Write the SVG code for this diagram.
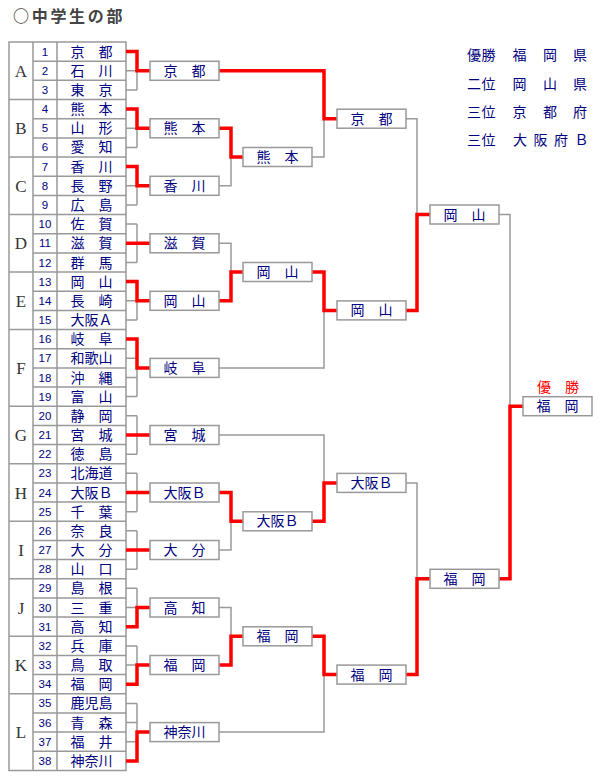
<svg xmlns="http://www.w3.org/2000/svg" width="610" height="780" viewBox="0 0 610 780">
<style>
.t{font-family:"Noto Sans CJK JP","Noto Sans CJK SC",sans-serif;font-size:14px;fill:#000080;text-anchor:middle}
.lg{font-family:"Noto Sans CJK JP","Noto Sans CJK SC",sans-serif;font-size:14px;fill:#000080}
.n{font-family:"Liberation Sans",Arial,sans-serif;font-size:11.5px;fill:#000080;text-anchor:middle}
.g{font-family:"Liberation Serif","Times New Roman",serif;font-size:17px;fill:#333;text-anchor:middle}
.box{fill:#fff;stroke:#999;stroke-width:1.5}
.gl{fill:none;stroke:#999;stroke-width:1.5}
.rl{fill:none;stroke:#f00;stroke-width:3.5;stroke-linejoin:miter}
.tb{fill:none;stroke:#999;stroke-width:1.5}
</style>
<rect width="610" height="780" fill="#fff"/>
<text id="title" x="13" y="22" style="font-family:'Noto Sans CJK JP','Noto Sans CJK SC',sans-serif;font-size:16px;font-weight:bold;fill:#444;letter-spacing:2.7px">○中学生の部</text>

<g id="table">
<rect class="tb" x="9" y="42" width="117" height="728.5"/>
<path class="tb" d="M33 42V770.5M57 42V770.5
M33 61.2H126M33 80.3H126M33 118.7H126M33 137.9H126M33 176.2H126M33 195.4H126M33 233.7H126M33 252.9H126M33 291.2H126M33 310.4H126M33 348.7H126M33 367.9H126M33 387.1H126M33 425.4H126M33 444.6H126M33 482.9H126M33 502.1H126M33 540.4H126M33 559.6H126M33 597.9H126M33 617.1H126M33 655.4H126M33 674.6H126M33 713H126M33 732.1H126M33 751.3H126
M9 99.5H126M9 157H126M9 214.5H126M9 272H126M9 329.6H126M9 406.2H126M9 463.7H126M9 521.3H126M9 578.8H126M9 636.3H126M9 693.8H126"/>
<text class="g" x="21" y="76.8">A</text>
<text class="g" x="21" y="134.3">B</text>
<text class="g" x="21" y="191.8">C</text>
<text class="g" x="21" y="249.3">D</text>
<text class="g" x="21" y="306.8">E</text>
<text class="g" x="21" y="373.9">F</text>
<text class="g" x="21" y="441">G</text>
<text class="g" x="21" y="498.5">H</text>
<text class="g" x="21" y="556">I</text>
<text class="g" x="21" y="613.5">J</text>
<text class="g" x="21" y="671">K</text>
<text class="g" x="21" y="738.1">L</text>
</g>

<g id="team-1"><text class="n" x="45" y="55.6">1</text><text class="t" x="91.5" y="56.6">京　都</text></g>
<g id="team-2"><text class="n" x="45" y="74.8">2</text><text class="t" x="91.5" y="75.8">石　川</text></g>
<g id="team-3"><text class="n" x="45" y="93.9">3</text><text class="t" x="91.5" y="94.9">東　京</text></g>
<g id="team-4"><text class="n" x="45" y="113.1">4</text><text class="t" x="91.5" y="114.1">熊　本</text></g>
<g id="team-5"><text class="n" x="45" y="132.3">5</text><text class="t" x="91.5" y="133.3">山　形</text></g>
<g id="team-6"><text class="n" x="45" y="151.4">6</text><text class="t" x="91.5" y="152.4">愛　知</text></g>
<g id="team-7"><text class="n" x="45" y="170.6">7</text><text class="t" x="91.5" y="171.6">香　川</text></g>
<g id="team-8"><text class="n" x="45" y="189.8">8</text><text class="t" x="91.5" y="190.8">長　野</text></g>
<g id="team-9"><text class="n" x="45" y="208.9">9</text><text class="t" x="91.5" y="209.9">広　島</text></g>
<g id="team-10"><text class="n" x="45" y="228.1">10</text><text class="t" x="91.5" y="229.1">佐　賀</text></g>
<g id="team-11"><text class="n" x="45" y="247.3">11</text><text class="t" x="91.5" y="248.3">滋　賀</text></g>
<g id="team-12"><text class="n" x="45" y="266.5">12</text><text class="t" x="91.5" y="267.5">群　馬</text></g>
<g id="team-13"><text class="n" x="45" y="285.6">13</text><text class="t" x="91.5" y="286.6">岡　山</text></g>
<g id="team-14"><text class="n" x="45" y="304.8">14</text><text class="t" x="91.5" y="305.8">長　崎</text></g>
<g id="team-15"><text class="n" x="45" y="324">15</text><text class="t" x="91.5" y="325">大阪Ａ</text></g>
<g id="team-16"><text class="n" x="45" y="343.1">16</text><text class="t" x="91.5" y="344.1">岐　阜</text></g>
<g id="team-17"><text class="n" x="45" y="362.3">17</text><text class="t" x="91.5" y="363.3">和歌山</text></g>
<g id="team-18"><text class="n" x="45" y="381.5">18</text><text class="t" x="91.5" y="382.5">沖　縄</text></g>
<g id="team-19"><text class="n" x="45" y="400.6">19</text><text class="t" x="91.5" y="401.6">富　山</text></g>
<g id="team-20"><text class="n" x="45" y="419.8">20</text><text class="t" x="91.5" y="420.8">静　岡</text></g>
<g id="team-21"><text class="n" x="45" y="439">21</text><text class="t" x="91.5" y="440">宮　城</text></g>
<g id="team-22"><text class="n" x="45" y="458.2">22</text><text class="t" x="91.5" y="459.2">徳　島</text></g>
<g id="team-23"><text class="n" x="45" y="477.3">23</text><text class="t" x="91.5" y="478.3">北海道</text></g>
<g id="team-24"><text class="n" x="45" y="496.5">24</text><text class="t" x="91.5" y="497.5">大阪Ｂ</text></g>
<g id="team-25"><text class="n" x="45" y="515.7">25</text><text class="t" x="91.5" y="516.7">千　葉</text></g>
<g id="team-26"><text class="n" x="45" y="534.8">26</text><text class="t" x="91.5" y="535.8">奈　良</text></g>
<g id="team-27"><text class="n" x="45" y="554">27</text><text class="t" x="91.5" y="555">大　分</text></g>
<g id="team-28"><text class="n" x="45" y="573.2">28</text><text class="t" x="91.5" y="574.2">山　口</text></g>
<g id="team-29"><text class="n" x="45" y="592.3">29</text><text class="t" x="91.5" y="593.3">島　根</text></g>
<g id="team-30"><text class="n" x="45" y="611.5">30</text><text class="t" x="91.5" y="612.5">三　重</text></g>
<g id="team-31"><text class="n" x="45" y="630.7">31</text><text class="t" x="91.5" y="631.7">高　知</text></g>
<g id="team-32"><text class="n" x="45" y="649.9">32</text><text class="t" x="91.5" y="650.9">兵　庫</text></g>
<g id="team-33"><text class="n" x="45" y="669">33</text><text class="t" x="91.5" y="670">鳥　取</text></g>
<g id="team-34"><text class="n" x="45" y="688.2">34</text><text class="t" x="91.5" y="689.2">福　岡</text></g>
<g id="team-35"><text class="n" x="45" y="707.4">35</text><text class="t" x="91.5" y="708.4">鹿児島</text></g>
<g id="team-36"><text class="n" x="45" y="726.5">36</text><text class="t" x="91.5" y="727.5">青　森</text></g>
<g id="team-37"><text class="n" x="45" y="745.7">37</text><text class="t" x="91.5" y="746.7">福　井</text></g>
<g id="team-38"><text class="n" x="45" y="764.9">38</text><text class="t" x="91.5" y="765.9">神奈川</text></g>

<g id="connectors">
<path class="gl" d="M126 51.6H137M126 70.8H137M126 89.9H137M126 109.1H137M126 128.3H137M126 147.4H137M126 166.6H137M126 185.8H137M126 204.9H137M126 224.1H137M126 243.3H137M126 262.5H137M126 281.6H137M126 300.8H137M126 320H137M126 339.1H137M126 358.3H137M126 377.5H137M126 396.6H137M126 415.8H137M126 435H137M126 454.2H137M126 473.3H137M126 492.5H137M126 511.7H137M126 530.8H137M126 550H137M126 569.2H137M126 588.3H137M126 607.5H137M126 626.7H137M126 645.9H137M126 665H137M126 684.2H137M126 703.4H137M126 722.5H137M126 741.7H137M126 760.9H137
M137 51.6V89.9M137 109.1V147.4M137 166.6V204.9M137 224.1V262.5M137 281.6V320M137 339.1V396.6M137 415.8V454.2M137 473.3V511.7M137 530.8V569.2M137 588.3V626.7M137 645.9V684.2M137 703.4V760.9
M219 128.3H231V185.8H219M219 243.3H231V300.8H219M219 492.5H231V550H219M219 607.5H231V665H219
M219 70.8H324V157H312M312 272H324V367.9H219M219 435H324V521.3H312M312 636.3H324V732.1H219
M406 118.7H417V310.4H406M406 482.9H417V674.6H406
M499 214.5H510V578.8H499"/>
<path class="rl" d="M126 51.6H137V70.8H150M126 109.1H137V128.3H150M126 166.6H137V185.8H150M126 243.3H150M126 281.6H137V300.8H150M126 339.1H137V367.9H150M126 435H150M126 492.5H150M126 550H150M126 626.7H137V607.5H150M126 684.2H137V665H150M126 760.9H137V732.1H150
M219 128.3H231V157H243M219 300.8H231V272H243M219 492.5H231V521.3H243M219 665H231V636.3H243
M219 70.8H324V118.7H337M312 272H324V310.4H337M312 521.3H324V482.9H337M312 636.3H324V674.6H337
M406 310.4H417V214.5H430M406 674.6H417V578.8H430
M499 578.8H510V406.2H523"/>
</g>

<g id="r1-kyoto"><rect class="box" x="150" y="61.3" width="69" height="19"/><text class="t" x="184.5" y="75.8">京　都</text></g>
<g id="r1-kumamoto"><rect class="box" x="150" y="118.8" width="69" height="19"/><text class="t" x="184.5" y="133.3">熊　本</text></g>
<g id="r1-kagawa"><rect class="box" x="150" y="176.3" width="69" height="19"/><text class="t" x="184.5" y="190.8">香　川</text></g>
<g id="r1-shiga"><rect class="box" x="150" y="233.8" width="69" height="19"/><text class="t" x="184.5" y="248.3">滋　賀</text></g>
<g id="r1-okayama"><rect class="box" x="150" y="291.3" width="69" height="19"/><text class="t" x="184.5" y="305.8">岡　山</text></g>
<g id="r1-gifu"><rect class="box" x="150" y="358.4" width="69" height="19"/><text class="t" x="184.5" y="372.9">岐　阜</text></g>
<g id="r1-miyagi"><rect class="box" x="150" y="425.5" width="69" height="19"/><text class="t" x="184.5" y="440">宮　城</text></g>
<g id="r1-osakab"><rect class="box" x="150" y="483" width="69" height="19"/><text class="t" x="184.5" y="497.5">大阪Ｂ</text></g>
<g id="r1-oita"><rect class="box" x="150" y="540.5" width="69" height="19"/><text class="t" x="184.5" y="555">大　分</text></g>
<g id="r1-kochi"><rect class="box" x="150" y="598" width="69" height="19"/><text class="t" x="184.5" y="612.5">高　知</text></g>
<g id="r1-fukuoka"><rect class="box" x="150" y="655.5" width="69" height="19"/><text class="t" x="184.5" y="670">福　岡</text></g>
<g id="r1-kanagawa"><rect class="box" x="150" y="722.6" width="69" height="19"/><text class="t" x="184.5" y="737.1">神奈川</text></g>

<g id="r2-kumamoto"><rect class="box" x="243" y="147.5" width="69" height="19"/><text class="t" x="277.5" y="162">熊　本</text></g>
<g id="r2-okayama"><rect class="box" x="243" y="262.5" width="69" height="19"/><text class="t" x="277.5" y="277">岡　山</text></g>
<g id="r2-osakab"><rect class="box" x="243" y="511.8" width="69" height="19"/><text class="t" x="277.5" y="526.3">大阪Ｂ</text></g>
<g id="r2-fukuoka"><rect class="box" x="243" y="626.8" width="69" height="19"/><text class="t" x="277.5" y="641.3">福　岡</text></g>

<g id="r3-kyoto"><rect class="box" x="337" y="109.2" width="69" height="19"/><text class="t" x="371.5" y="123.7">京　都</text></g>
<g id="r3-okayama"><rect class="box" x="337" y="300.9" width="69" height="19"/><text class="t" x="371.5" y="315.4">岡　山</text></g>
<g id="r3-osakab"><rect class="box" x="337" y="473.4" width="69" height="19"/><text class="t" x="371.5" y="487.9">大阪Ｂ</text></g>
<g id="r3-fukuoka"><rect class="box" x="337" y="665.1" width="69" height="19"/><text class="t" x="371.5" y="679.6">福　岡</text></g>

<g id="r4-okayama"><rect class="box" x="430" y="205" width="69" height="19"/><text class="t" x="464.5" y="219.5">岡　山</text></g>
<g id="r4-fukuoka"><rect class="box" x="430" y="569.3" width="69" height="19"/><text class="t" x="464.5" y="583.8">福　岡</text></g>

<g id="final-fukuoka"><text class="t" x="558" y="391.5" style="fill:#f00">優　勝</text><rect class="box" x="523" y="396.7" width="69" height="19"/><text class="t" x="557.5" y="411.2">福　岡</text></g>

<g id="results">
<text class="lg" x="467 481.5 512.5 543 573" y="60">優勝福岡県</text>
<text class="lg" x="467 481.5 512.5 543 573" y="88.5">二位岡山県</text>
<text class="lg" x="467 481.5 512.5 543 573" y="117">三位京都府</text>
<text class="lg" x="467 481.5 513 533.5 554 574.5" y="145">三位大阪府Ｂ</text>
</g>
</svg>
